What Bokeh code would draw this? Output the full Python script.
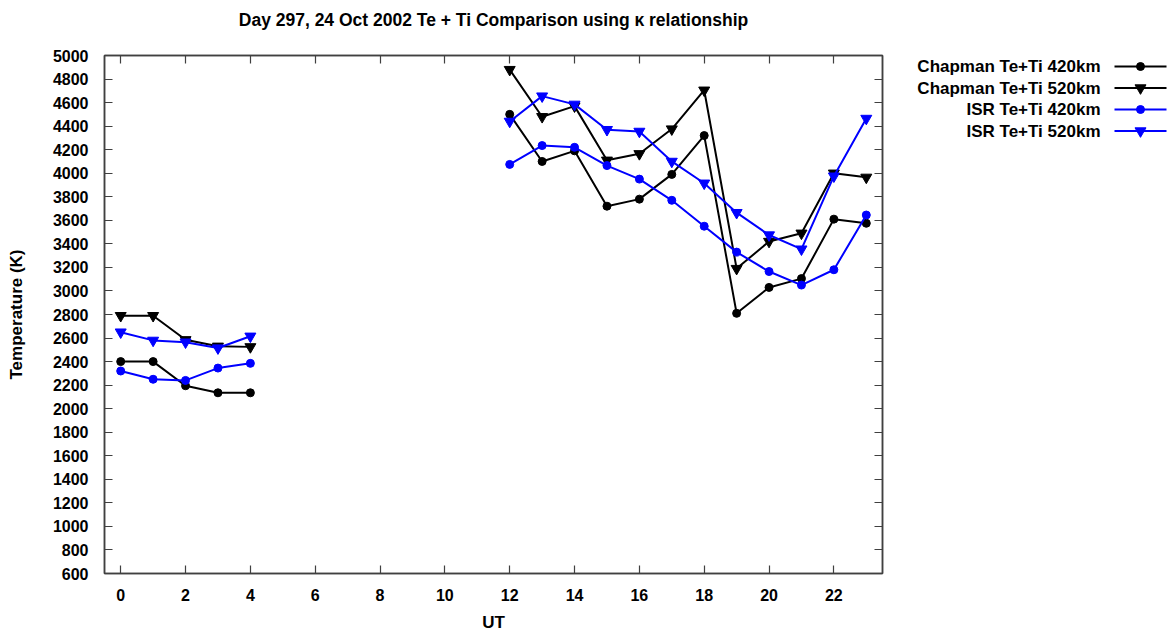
from bokeh.plotting import figure
from bokeh.layouts import row
from bokeh.models import LinearAxis, FixedTicker, CustomJSTickFormatter
from bokeh.core.properties import value
from bokeh.embed import file_html
from bokeh.resources import INLINE

# ---------------- data ----------------
ut = [0, 1, 2, 3, 4, 12, 13, 14, 15, 16, 17, 18, 19, 20, 21, 22, 23]
chapman_420 = [2400, 2400, 2195, 2135, 2135,
               4500, 4100, 4190, 3720, 3780, 3990, 4320, 2810, 3030, 3105, 3610, 3575]
chapman_520 = [2790, 2790, 2585, 2530, 2525,
               4880, 4480, 4570, 4110, 4165, 4375, 4705, 3190, 3420, 3490, 4000, 3965]
isr_420 = [2320, 2250, 2240, 2345, 2385,
           4075, 4235, 4220, 4065, 3950, 3770, 3550, 3330, 3165, 3050, 3180, 3645]
isr_520 = [2650, 2580, 2565, 2515, 2615,
           4440, 4655, 4585, 4370, 4355, 4100, 3915, 3665, 3475, 3355, 3975, 4465]

series_labels = ["Chapman Te+Ti 420km", "Chapman Te+Ti 520km",
                 "ISR Te+Ti 420km", "ISR Te+Ti 520km"]
x_ticks = list(range(0, 23, 2))
y_ticks = list(range(600, 5001, 200))

title_text = "Day 297, 24 Oct 2002 Te + Ti Comparison using \u03ba relationship"
x_label = "UT"
y_label = "Temperature (K)"

# ---------------- styling / layout ----------------
FONT = "Liberation Sans"
AX_COLOR = "#404040"
H = 634
PW = 886                      # main plot width
LW = 1168 - PW                # legend panel width
MB_L, MB_R, MB_T, MB_B = 104, 4, 55, 61
FRAME_TOP, FRAME_BOTTOM = MB_T, H - MB_B

colors = ["black", "black", "blue", "blue"]
markers = ["circle", "inverted_triangle", "circle", "inverted_triangle"]
sizes = [8, 11, 8, 11]


def with_gaps(xs, ys):
    gx, gy = [], []
    for i, (a, b) in enumerate(zip(xs, ys)):
        if i > 0 and a - xs[i - 1] > 1:
            gx.append(float("nan"))
            gy.append(float("nan"))
        gx.append(a)
        gy.append(b)
    return gx, gy


p = figure(width=PW, height=H, x_range=(-0.5, 23.5), y_range=(600, 5000),
           output_backend="svg", toolbar_location=None,
           min_border_left=MB_L, min_border_right=MB_R,
           min_border_top=MB_T, min_border_bottom=MB_B)

p.title.text = title_text
p.title.align = "center"
p.title.text_font = FONT
p.title.text_font_style = "bold"
p.title.text_font_size = "17.5px"
p.title.text_color = "black"
p.title.standoff = 2

p.xgrid.visible = False
p.ygrid.visible = False
p.outline_line_color = AX_COLOR
p.outline_line_width = 1.5


def style_axis(ax, ticks, show_labels):
    ax.ticker = FixedTicker(ticks=ticks)
    ax.minor_tick_line_color = None
    ax.major_tick_in = 8
    ax.major_tick_out = 0
    ax.axis_line_color = AX_COLOR
    ax.axis_line_width = 1.5
    ax.major_tick_line_color = AX_COLOR
    ax.major_tick_line_width = 1.2
    ax.major_label_text_font = FONT
    ax.major_label_text_font_style = "bold"
    ax.major_label_text_font_size = "16px"
    ax.major_label_text_color = "black"
    ax.axis_label_text_font = FONT
    ax.axis_label_text_font_style = "bold"
    ax.axis_label_text_font_size = "17px"
    ax.axis_label_text_color = "black"
    if not show_labels:
        ax.formatter = CustomJSTickFormatter(code="return ''")
        ax.major_label_standoff = 0
        ax.major_label_text_font_size = "1px"


xa = p.xaxis[0]
ya = p.yaxis[0]
style_axis(xa, x_ticks, True)
style_axis(ya, y_ticks, True)
xa.axis_label = x_label
ya.axis_label = y_label
xa.major_label_standoff = 15
xa.axis_label_standoff = 9
ya.major_label_standoff = 16
ya.axis_label_standoff = 24

top_ax = LinearAxis()
right_ax = LinearAxis()
style_axis(top_ax, x_ticks, False)
style_axis(right_ax, y_ticks, False)
# invisible spacer label so that the title sits higher above the frame
top_ax.axis_label = " "
top_ax.axis_label_text_font_size = "1px"
top_ax.axis_label_standoff = 21
p.add_layout(top_ax, "above")
p.add_layout(right_ax, "right")

for vals, color, marker, size in zip([chapman_420, chapman_520, isr_420, isr_520],
                                     colors, markers, sizes):
    gx, gy = with_gaps(ut, vals)
    p.line(gx, gy, line_color=color, line_width=2)
    p.scatter(ut, vals, marker=marker, size=size, fill_color=color,
              line_color=color)

# ---------------- legend panel (page-pixel coordinates, y from top) ----------------
q = figure(width=LW, height=H, x_range=(0, LW), y_range=(FRAME_BOTTOM, FRAME_TOP),
           output_backend="svg", toolbar_location=None,
           min_border_left=0, min_border_right=0,
           min_border_top=MB_T, min_border_bottom=MB_B, outline_line_color=None)
q.axis.visible = False
q.grid.visible = False

TEXT_RIGHT = 214
LINE_X0, LINE_X1 = 228, 280
MARK_X = 254
ROW_Y0, ROW_DY = 66, 21.5

for i, lab in enumerate(series_labels):
    yy = ROW_Y0 + i * ROW_DY
    q.text(x=[TEXT_RIGHT], y=[yy], text=[lab], text_align="right",
           text_baseline="middle", text_font=value(FONT),
           text_font_style="bold", text_font_size="17px", text_color="black")
    q.segment(x0=[LINE_X0], y0=[yy], x1=[LINE_X1], y1=[yy],
              line_color=colors[i], line_width=2)
    q.scatter(x=[MARK_X], y=[yy], marker=markers[i], size=sizes[i],
              fill_color=colors[i], line_color=colors[i])

layout = row(p, q, spacing=0)
open("out.html", "w").write(file_html(layout, INLINE))
